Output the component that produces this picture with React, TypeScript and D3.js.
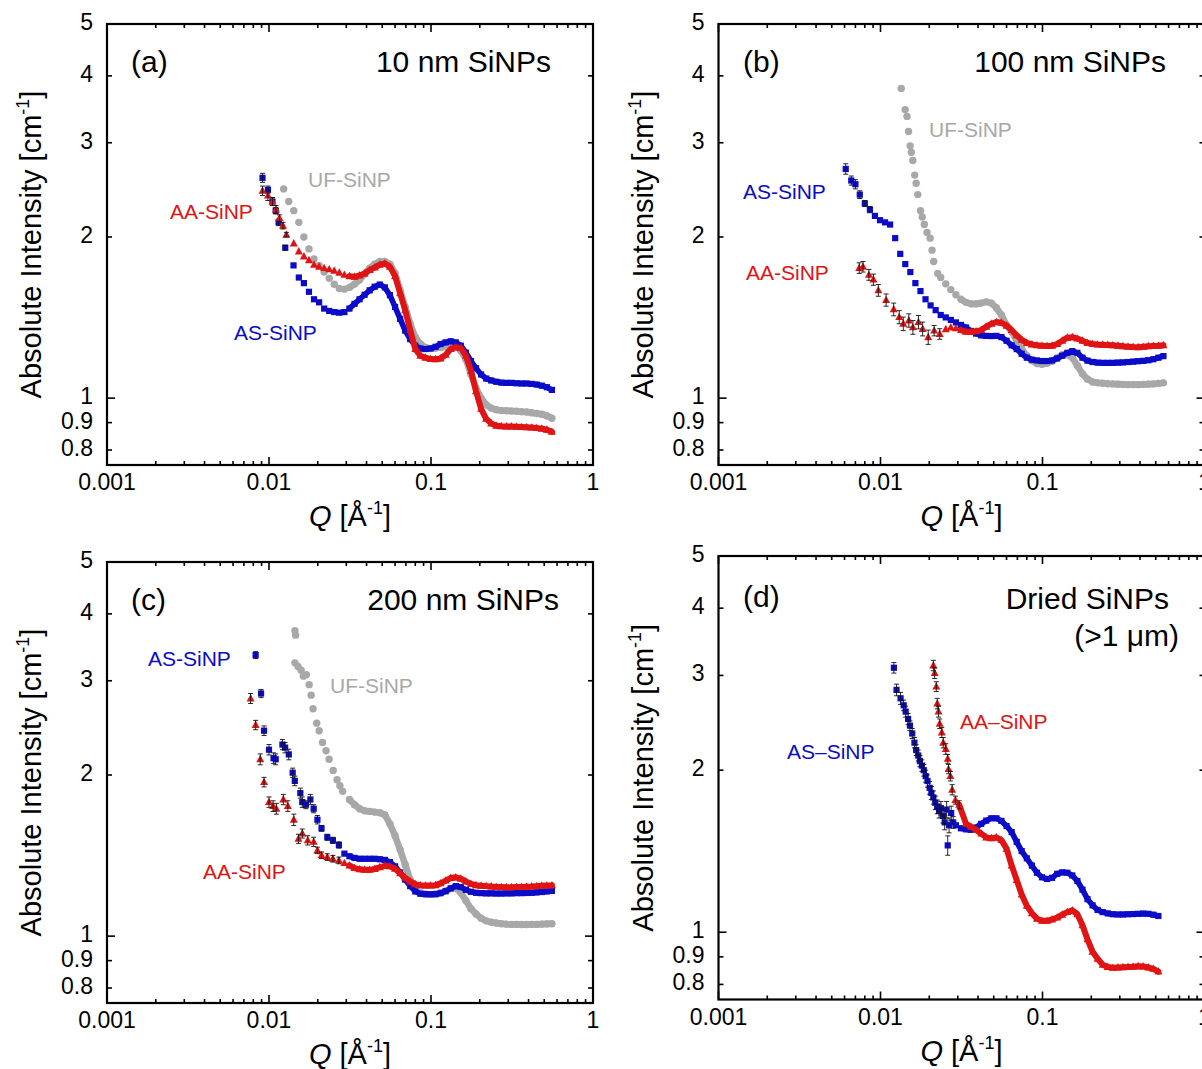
import React from 'react';
import * as d3 from 'd3';

// ---------- shared Q grid (Å^-1), 32 points per decade ----------
const Q_GRID = [
  0.006, 0.00645, 0.00693, 0.00744, 0.008, 0.0086, 0.00924, 0.00993,
  0.01067, 0.01146, 0.01232, 0.01324, 0.01422, 0.01528, 0.01642, 0.01765,
  0.01896, 0.02038, 0.0219, 0.02353, 0.02528, 0.02717, 0.0292, 0.03137,
  0.03371, 0.03623, 0.03893, 0.04183, 0.04495, 0.04831, 0.05191, 0.05578,
  0.06, 0.0645, 0.0693, 0.0744, 0.08, 0.086, 0.0924, 0.0993,
  0.1067, 0.1146, 0.1232, 0.1324, 0.1422, 0.1528, 0.1642, 0.1765,
  0.1896, 0.2038, 0.219, 0.2353, 0.2528, 0.2717, 0.292, 0.3137,
  0.3371, 0.3623, 0.3893, 0.4183, 0.4495, 0.4831, 0.5191, 0.5578,
];

// ---------- axes ----------
const X_DOMAIN = [0.001, 1];
const Y_DOMAIN = [0.75, 5];
const X_MAJOR = [0.001, 0.01, 0.1, 1];
const X_LABELS = ['0.001', '0.01', '0.1', '1'];
const X_MINOR_MULT = [2, 3, 4, 5, 6, 7, 8, 9];
const Y_MAJOR = [1];
const Y_MINOR = [0.8, 0.9, 2, 3, 4];
const Y_LABEL_VALUES = [0.8, 0.9, 1, 2, 3, 4, 5];
const Y_LABEL_TEXT = ['0.8', '0.9', '1', '2', '3', '4', '5'];
// above this Q the measured points are so dense that they merge into a band
const DENSE_FROM_Q = 0.03;

// ---------- (a) 10 nm SiNPs ----------
const A_AS_LOW = [[0.00912, 2.58, 0.05], [0.00985, 2.45, 0.04], [0.0105, 2.33, 0.04], [0.011, 2.24, 0.03], [0.01146, 2.13, 0.03], [0.0126, 1.91, 0.02], [0.01417, 1.77, 0]];
const A_AS_START = 13;
const A_AS_HIGH = [1.68, 1.64, 1.58, 1.53, 1.51, 1.47, 1.455, 1.448, 1.444, 1.448, 1.47, 1.5, 1.53, 1.56, 1.59, 1.615, 1.63, 1.61, 1.557, 1.48, 1.406, 1.337, 1.289, 1.253, 1.238, 1.235, 1.238, 1.247, 1.262, 1.271, 1.277, 1.271, 1.253, 1.216, 1.173, 1.137, 1.107, 1.088, 1.079, 1.073, 1.069, 1.068, 1.068, 1.066, 1.065, 1.065, 1.063, 1.06, 1.055, 1.048, 1.036];
const A_AA_LOW = [[0.00912, 2.44, 0.05], [0.00985, 2.39, 0.05], [0.0105, 2.33, 0.04], [0.01105, 2.25, 0.04], [0.0116, 2.17, 0.03], [0.0122, 2.1, 0.03], [0.0128, 2.02, 0.02]];
const A_AA_START = 12;
const A_AA_HIGH = [1.945, 1.88, 1.84, 1.81, 1.775, 1.76, 1.75, 1.74, 1.73, 1.715, 1.7, 1.69, 1.685, 1.695, 1.71, 1.735, 1.755, 1.775, 1.785, 1.76, 1.69, 1.57, 1.46, 1.34, 1.235, 1.2, 1.19, 1.183, 1.182, 1.186, 1.205, 1.235, 1.245, 1.24, 1.2, 1.125, 1.03, 0.955, 0.915, 0.897, 0.888, 0.886, 0.885, 0.885, 0.884, 0.883, 0.882, 0.881, 0.879, 0.877, 0.873, 0.865];
const A_UF_LOW: number[][] = [];
const A_UF_START = 10;
const A_UF_HIGH = [2.46, 2.33, 2.24, 2.13, 2.0, 1.9, 1.82, 1.77, 1.72, 1.674, 1.632, 1.603, 1.598, 1.61, 1.633, 1.663, 1.706, 1.748, 1.78, 1.8, 1.8, 1.78, 1.711, 1.59, 1.48, 1.377, 1.299, 1.262, 1.243, 1.238, 1.24, 1.243, 1.247, 1.253, 1.253, 1.226, 1.182, 1.107, 1.045, 1.0, 0.972, 0.958, 0.951, 0.948, 0.947, 0.946, 0.945, 0.943, 0.942, 0.939, 0.936, 0.933, 0.927, 0.917];

// ---------- (b) 100 nm SiNPs ----------
const B_AS_LOW = [[0.0061, 2.68, 0.06], [0.0066, 2.55, 0.05], [0.007, 2.51, 0.05], [0.00745, 2.4, 0.04], [0.008, 2.31, 0.03], [0.0086, 2.25, 0.03]];
const B_AS_START = 6;
const B_AS_HIGH = [2.19, 2.15, 2.13, 2.11, 1.99, 1.86, 1.78, 1.72, 1.64, 1.585, 1.53, 1.49, 1.46, 1.43, 1.415, 1.4, 1.385, 1.37, 1.355, 1.335, 1.32, 1.31, 1.307, 1.306, 1.307, 1.3, 1.28, 1.255, 1.235, 1.21, 1.19, 1.18, 1.176, 1.173, 1.173, 1.176, 1.186, 1.2, 1.215, 1.224, 1.215, 1.19, 1.175, 1.168, 1.165, 1.164, 1.164, 1.164, 1.165, 1.166, 1.168, 1.17, 1.172, 1.174, 1.177, 1.182, 1.19, 1.198];
const B_AA_LOW = [[0.00739, 1.75, 0.04], [0.0078, 1.76, 0.04], [0.00848, 1.7, 0.04], [0.00904, 1.665, 0.04], [0.0097, 1.59, 0.04], [0.01083, 1.525, 0.04], [0.01206, 1.465, 0.04], [0.01305, 1.417, 0.04], [0.01382, 1.377, 0.04], [0.01496, 1.397, 0.04], [0.01585, 1.356, 0.04], [0.01715, 1.387, 0.04], [0.0182, 1.347, 0.04], [0.0197, 1.3, 0.04], [0.02144, 1.337, 0.03], [0.0232, 1.318, 0.03]];
const B_AA_START = 20;
const B_AA_HIGH = [1.345, 1.355, 1.35, 1.34, 1.33, 1.33, 1.333, 1.34, 1.36, 1.377, 1.387, 1.383, 1.366, 1.34, 1.31, 1.285, 1.268, 1.26, 1.255, 1.253, 1.252, 1.253, 1.262, 1.28, 1.297, 1.3, 1.292, 1.28, 1.268, 1.262, 1.259, 1.258, 1.257, 1.255, 1.253, 1.25, 1.248, 1.246, 1.245, 1.247, 1.25, 1.252, 1.253, 1.255];
const B_UF_LOW = [[0.01343, 3.79], [0.01419, 3.46], [0.01458, 3.36], [0.0149, 3.15], [0.01524, 2.96], [0.0155, 2.88], [0.01583, 2.78], [0.01626, 2.61], [0.0166, 2.52], [0.01699, 2.4], [0.01766, 2.24], [0.0181, 2.18], [0.01864, 2.11], [0.01937, 2.04], [0.02024, 1.99], [0.0208, 1.89], [0.02129, 1.8], [0.02255, 1.71]];
const B_UF_START = 19;
const B_UF_HIGH = [1.68, 1.635, 1.595, 1.56, 1.53, 1.51, 1.5, 1.5, 1.505, 1.513, 1.505, 1.475, 1.43, 1.37, 1.33, 1.28, 1.235, 1.2, 1.175, 1.16, 1.157, 1.162, 1.172, 1.19, 1.205, 1.205, 1.19, 1.15, 1.11, 1.085, 1.072, 1.068, 1.066, 1.064, 1.063, 1.062, 1.061, 1.06, 1.06, 1.06, 1.061, 1.062, 1.063, 1.065, 1.068];

// ---------- (c) 200 nm SiNPs ----------
const C_AS_LOW = [[0.00827, 3.35, 0.05], [0.00893, 2.84, 0.05], [0.00932, 2.42, 0.05], [0.01, 2.23, 0.05], [0.01067, 2.15, 0.05], [0.011, 2.14, 0.05], [0.0121, 2.28, 0.05], [0.01257, 2.25, 0.05], [0.01325, 2.185, 0.05], [0.014, 2.02, 0.04], [0.01443, 1.95, 0.04], [0.01561, 1.85, 0.04], [0.01605, 1.78, 0.04], [0.0169, 1.76, 0.03], [0.018, 1.8, 0.04], [0.01887, 1.73, 0.03], [0.0199, 1.65, 0.03], [0.0211, 1.59, 0.02], [0.0229, 1.53, 0.02], [0.0248, 1.51, 0.02], [0.027, 1.48, 0.02]];
const C_AS_START = 22;
const C_AS_HIGH = [1.426, 1.41, 1.4, 1.395, 1.395, 1.395, 1.395, 1.392, 1.388, 1.375, 1.35, 1.315, 1.275, 1.24, 1.212, 1.2, 1.198, 1.197, 1.198, 1.203, 1.213, 1.228, 1.24, 1.235, 1.22, 1.21, 1.205, 1.203, 1.202, 1.202, 1.201, 1.201, 1.202, 1.202, 1.203, 1.203, 1.204, 1.205, 1.207, 1.209, 1.212, 1.215];
const C_AA_LOW = [[0.0077, 2.78, 0.06], [0.00827, 2.48, 0.05], [0.00883, 2.14, 0.05], [0.00932, 1.94, 0.04], [0.01, 1.78, 0.04], [0.01059, 1.75, 0.04], [0.0111, 1.73, 0.04], [0.01226, 1.8, 0.04], [0.01307, 1.75, 0.04], [0.01422, 1.65, 0.04], [0.0152, 1.52, 0.03], [0.01605, 1.555, 0.03], [0.01734, 1.51, 0.03], [0.01887, 1.5, 0.03], [0.0199, 1.446, 0.02], [0.0211, 1.416, 0.02], [0.0229, 1.405, 0.02], [0.0248, 1.395, 0.02], [0.027, 1.385, 0.02]];
const C_AA_START = 22;
const C_AA_HIGH = [1.369, 1.355, 1.34, 1.333, 1.33, 1.33, 1.335, 1.345, 1.353, 1.35, 1.336, 1.31, 1.285, 1.265, 1.25, 1.244, 1.243, 1.243, 1.245, 1.255, 1.27, 1.284, 1.288, 1.28, 1.265, 1.252, 1.245, 1.242, 1.24, 1.238, 1.236, 1.235, 1.234, 1.234, 1.235, 1.236, 1.237, 1.238, 1.24, 1.242, 1.243, 1.244];
const C_UF_LOW = [[0.01445, 3.72], [0.0146, 3.65], [0.01445, 3.24], [0.0151, 3.19], [0.0158, 3.14], [0.0163, 3.06], [0.017, 3.08], [0.0177, 2.95], [0.0182, 2.82], [0.0187, 2.66], [0.0197, 2.5], [0.0204, 2.42], [0.0214, 2.3], [0.0225, 2.22], [0.0235, 2.14], [0.0249, 2.04], [0.0263, 1.96], [0.0274, 1.91], [0.0285, 1.864]];
const C_UF_START = 23;
const C_UF_HIGH = [1.8, 1.76, 1.73, 1.715, 1.71, 1.705, 1.7, 1.685, 1.62, 1.54, 1.45, 1.36, 1.275, 1.22, 1.205, 1.198, 1.197, 1.198, 1.205, 1.215, 1.228, 1.23, 1.205, 1.165, 1.125, 1.1, 1.08, 1.068, 1.062, 1.058, 1.055, 1.053, 1.052, 1.052, 1.051, 1.051, 1.052, 1.052, 1.053, 1.054, 1.055];

// ---------- (d) Dried SiNPs ----------
const D_AS_LOW = [[0.0121, 3.1, 0.07], [0.01256, 2.82, 0.07], [0.0133, 2.72, 0.07], [0.0139, 2.64, 0.06], [0.0143, 2.57, 0.06], [0.0148, 2.49, 0.06], [0.0152, 2.42, 0.05], [0.0157, 2.34, 0.05], [0.0162, 2.25, 0.05], [0.0166, 2.18, 0.05], [0.0171, 2.13, 0.05], [0.0175, 2.08, 0.05], [0.018, 2.04, 0.05], [0.0185, 2.0, 0.05], [0.019, 1.95, 0.05], [0.0195, 1.91, 0.05], [0.0201, 1.855, 0.05], [0.0206, 1.815, 0.05], [0.0212, 1.78, 0.05], [0.0218, 1.74, 0.05], [0.0224, 1.71, 0.05], [0.023, 1.68, 0.05], [0.0236, 1.7, 0.05], [0.0243, 1.645, 0.05], [0.0249, 1.6, 0.05], [0.0256, 1.69, 0.06], [0.026, 1.45, 0.06], [0.0265, 1.58, 0.05], [0.0273, 1.665, 0.05], [0.0281, 1.6, 0.04]];
const D_AS_START = 22;
const D_AS_HIGH = [1.58, 1.56, 1.553, 1.55, 1.565, 1.59, 1.612, 1.628, 1.628, 1.61, 1.575, 1.535, 1.472, 1.415, 1.372, 1.33, 1.29, 1.265, 1.256, 1.262, 1.284, 1.292, 1.29, 1.275, 1.245, 1.2, 1.152, 1.122, 1.1, 1.09, 1.084, 1.08, 1.079, 1.079, 1.08, 1.081, 1.082, 1.083, 1.082, 1.078, 1.072];
const D_AA_LOW = [[0.0212, 3.13, 0.07], [0.0216, 3.03, 0.07], [0.0221, 2.86, 0.06], [0.0224, 2.66, 0.06], [0.0228, 2.57, 0.06], [0.0232, 2.44, 0.05], [0.0239, 2.35, 0.05], [0.0244, 2.25, 0.05], [0.0253, 2.19, 0.05], [0.026, 2.1, 0.04], [0.0263, 2.01, 0.04], [0.027, 1.95, 0.04], [0.0277, 1.84, 0.04], [0.029, 1.76, 0.03], [0.0306, 1.725, 0.03]];
const D_AA_START = 24;
const D_AA_HIGH = [1.59, 1.57, 1.55, 1.525, 1.5, 1.495, 1.5, 1.483, 1.43, 1.33, 1.25, 1.175, 1.12, 1.085, 1.06, 1.05, 1.05, 1.056, 1.065, 1.078, 1.09, 1.098, 1.08, 1.03, 0.97, 0.92, 0.893, 0.87, 0.862, 0.859, 0.86, 0.861, 0.862, 0.863, 0.865, 0.864, 0.86, 0.855, 0.845];

// ---------- styling ----------
const BLUE = '#0b0bc8';
const RED = '#e01414';
const GRAY = '#a8a8a8';
const FONT = "'Liberation Sans', Arial, Helvetica, sans-serif";
const PANEL_W = 486;

type Shape = 'square' | 'triangle' | 'circle';
interface SeriesDef { color: string; shape: Shape; low: number[][]; high: number[]; start: number }
interface Label { text: string; x: number; y: number; color: string }
interface PanelDef {
  left: number; top: number; bottom: number;
  tag: string; tagX: number; tagY: number;
  title: string[]; titleX: number[]; titleY: number[];
  series: SeriesDef[]; labels: Label[];
}

const PANELS: PanelDef[] = [
  {
    left: 107, top: 24, bottom: 465, tag: '(a)', tagX: 131, tagY: 72,
    title: ['10 nm SiNPs'], titleX: [551], titleY: [72],
    series: [
      { color: GRAY, shape: 'circle', low: A_UF_LOW, high: A_UF_HIGH, start: A_UF_START },
      { color: BLUE, shape: 'square', low: A_AS_LOW, high: A_AS_HIGH, start: A_AS_START },
      { color: RED, shape: 'triangle', low: A_AA_LOW, high: A_AA_HIGH, start: A_AA_START },
    ],
    labels: [
      { text: 'UF-SiNP', x: 308, y: 187, color: GRAY },
      { text: 'AA-SiNP', x: 170, y: 219, color: RED },
      { text: 'AS-SiNP', x: 234, y: 340, color: BLUE },
    ],
  },
  {
    left: 718.5, top: 24, bottom: 465, tag: '(b)', tagX: 743, tagY: 72,
    title: ['100 nm SiNPs'], titleX: [1166], titleY: [72],
    series: [
      { color: GRAY, shape: 'circle', low: B_UF_LOW, high: B_UF_HIGH, start: B_UF_START },
      { color: BLUE, shape: 'square', low: B_AS_LOW, high: B_AS_HIGH, start: B_AS_START },
      { color: RED, shape: 'triangle', low: B_AA_LOW, high: B_AA_HIGH, start: B_AA_START },
    ],
    labels: [
      { text: 'UF-SiNP', x: 929, y: 137, color: GRAY },
      { text: 'AS-SiNP', x: 743, y: 199, color: BLUE },
      { text: 'AA-SiNP', x: 746, y: 280, color: RED },
    ],
  },
  {
    left: 107, top: 562, bottom: 1003, tag: '(c)', tagX: 131, tagY: 610,
    title: ['200 nm SiNPs'], titleX: [559], titleY: [610],
    series: [
      { color: GRAY, shape: 'circle', low: C_UF_LOW, high: C_UF_HIGH, start: C_UF_START },
      { color: BLUE, shape: 'square', low: C_AS_LOW, high: C_AS_HIGH, start: C_AS_START },
      { color: RED, shape: 'triangle', low: C_AA_LOW, high: C_AA_HIGH, start: C_AA_START },
    ],
    labels: [
      { text: 'AS-SiNP', x: 148, y: 666, color: BLUE },
      { text: 'UF-SiNP', x: 330, y: 693, color: GRAY },
      { text: 'AA-SiNP', x: 203, y: 879, color: RED },
    ],
  },
  {
    left: 718.5, top: 556, bottom: 999.5, tag: '(d)', tagX: 743, tagY: 607,
    title: ['Dried SiNPs', '(>1 \u03bcm)'], titleX: [1169, 1179], titleY: [609, 646],
    series: [
      { color: BLUE, shape: 'square', low: D_AS_LOW, high: D_AS_HIGH, start: D_AS_START },
      { color: RED, shape: 'triangle', low: D_AA_LOW, high: D_AA_HIGH, start: D_AA_START },
    ],
    labels: [
      { text: 'AS\u2013SiNP', x: 787, y: 759, color: BLUE },
      { text: 'AA\u2013SiNP', x: 960, y: 729, color: RED },
    ],
  },
];

function buildPoints(s: SeriesDef) {
  const pts = s.low.map((p) => ({ q: p[0], v: p[1], e: p[2] || 0 }));
  s.high.forEach((v, i) => pts.push({ q: Q_GRID[s.start + i], v, e: 0 }));
  return pts;
}

function Marker({ shape, cx, cy, color }: { shape: Shape; cx: number; cy: number; color: string }) {
  if (shape === 'square') return <rect x={cx - 3.1} y={cy - 3.1} width={6.2} height={6.2} fill={color} />;
  if (shape === 'triangle')
    return <path d={`M${cx},${cy - 4.4}L${cx + 4},${cy + 3}L${cx - 4},${cy + 3}Z`} fill={color} />;
  return <circle cx={cx} cy={cy} r={3.7} fill={color} />;
}

const BAND_WIDTH: Record<Shape, number> = { square: 5.6, triangle: 6, circle: 6.6 };

function Panel({ p }: { p: PanelDef }) {
  const right = p.left + PANEL_W;
  const x = d3.scaleLog().domain(X_DOMAIN).range([p.left, right]);
  const y = d3.scaleLog().domain(Y_DOMAIN).range([p.bottom, p.top]);
  const xMinor: number[] = [];
  X_MAJOR.slice(0, -1).forEach((d) => X_MINOR_MULT.forEach((m) => xMinor.push(d * m)));
  const midX = (p.left + right) / 2;
  const midY = (p.top + p.bottom) / 2;
  const tk = { stroke: '#000', strokeWidth: 1.6 };
  const line = d3.line<{ q: number; v: number }>().x((d) => x(d.q)).y((d) => y(d.v)).curve(d3.curveLinear);

  return (
    <g>
      {/* data */}
      {p.series.map((s, si) => {
        const pts = buildPoints(s);
        const dense = pts.filter((d) => d.q >= DENSE_FROM_Q);
        return (
          <g key={si}>
            <path d={line(dense) || ''} fill="none" stroke={s.color} strokeWidth={BAND_WIDTH[s.shape]} strokeLinejoin="round" strokeLinecap="round" />
            {pts.map((d, i) => (
              <Marker key={i} shape={s.shape} cx={x(d.q)} cy={y(d.v)} color={s.color} />
            ))}
            {pts.filter((d) => d.e > 0).map((d, i) => {
              const cx = x(d.q);
              const y1 = y(d.v + d.e);
              const y2 = y(d.v - d.e);
              return (
                <g key={'e' + i} stroke="#111" strokeWidth={0.9}>
                  <line x1={cx} x2={cx} y1={y1} y2={y2} />
                  <line x1={cx - 2.5} x2={cx + 2.5} y1={y1} y2={y1} />
                  <line x1={cx - 2.5} x2={cx + 2.5} y1={y2} y2={y2} />
                </g>
              );
            })}
          </g>
        );
      })}

      {/* ticks */}
      {X_MAJOR.map((v) => (
        <g key={'xm' + v}>
          <line x1={x(v)} x2={x(v)} y1={p.bottom} y2={p.bottom - 8} {...tk} />
          <line x1={x(v)} x2={x(v)} y1={p.top} y2={p.top + 8} {...tk} />
        </g>
      ))}
      {xMinor.map((v) => (
        <g key={'xn' + v}>
          <line x1={x(v)} x2={x(v)} y1={p.bottom} y2={p.bottom - 4} {...tk} />
          <line x1={x(v)} x2={x(v)} y1={p.top} y2={p.top + 4} {...tk} />
        </g>
      ))}
      {Y_MAJOR.map((v) => (
        <g key={'ym' + v}>
          <line x1={p.left} x2={p.left + 8} y1={y(v)} y2={y(v)} {...tk} />
          <line x1={right} x2={right - 8} y1={y(v)} y2={y(v)} {...tk} />
        </g>
      ))}
      {Y_MINOR.map((v) => (
        <g key={'yn' + v}>
          <line x1={p.left} x2={p.left + 5} y1={y(v)} y2={y(v)} {...tk} />
          <line x1={right} x2={right - 5} y1={y(v)} y2={y(v)} {...tk} />
        </g>
      ))}

      {/* frame */}
      <rect x={p.left} y={p.top} width={PANEL_W} height={p.bottom - p.top} fill="none" stroke="#000" strokeWidth={2.2} />

      {/* tick labels */}
      {X_MAJOR.map((v, i) => (
        <text key={'xl' + v} x={x(v)} y={p.bottom + 25} textAnchor="middle" fontSize={23} fontFamily={FONT} fill="#000">
          {X_LABELS[i]}
        </text>
      ))}
      {Y_LABEL_VALUES.map((v, i) => (
        <text key={'yl' + v} x={p.left - 14} y={y(v) + 6} textAnchor="end" fontSize={23} fontFamily={FONT} fill="#000">
          {Y_LABEL_TEXT[i]}
        </text>
      ))}

      {/* axis titles */}
      <text x={midX} y={p.bottom + 61} textAnchor="middle" fontSize={29} fontFamily={FONT} fill="#000">
        <tspan fontStyle="italic">Q</tspan>
        <tspan> [Å</tspan>
        <tspan fontSize={18} dy={-12}>-1</tspan>
        <tspan dy={12}>]</tspan>
      </text>
      <text transform={`translate(${p.left - 66},${midY}) rotate(-90)`} textAnchor="middle" fontSize={29} fontFamily={FONT} fill="#000">
        <tspan>Absolute Intensity [cm</tspan>
        <tspan fontSize={18} dy={-12}>-1</tspan>
        <tspan dy={12}>]</tspan>
      </text>

      {/* annotations */}
      <text x={p.tagX} y={p.tagY} fontSize={30} fontFamily={FONT} fill="#000">{p.tag}</text>
      {p.title.map((t, i) => (
        <text key={'t' + i} x={p.titleX[i]} y={p.titleY[i]} textAnchor="end" fontSize={30} fontFamily={FONT} fill="#000">
          {t}
        </text>
      ))}
      {p.labels.map((l, i) => (
        <text key={'l' + i} x={l.x} y={l.y} fontSize={21} fontFamily={FONT} fill={l.color}>
          {l.text}
        </text>
      ))}
    </g>
  );
}

export default function App() {
  return (
    <svg
      width={1202}
      height={1069}
      viewBox="0 0 1202 1069"
      style={{ position: 'absolute', left: 0, top: 0, display: 'block', background: '#fff' }}
    >
      <rect x={0} y={0} width={1202} height={1069} fill="#fff" />
      {PANELS.map((p, i) => (
        <Panel key={i} p={p} />
      ))}
    </svg>
  );
}
